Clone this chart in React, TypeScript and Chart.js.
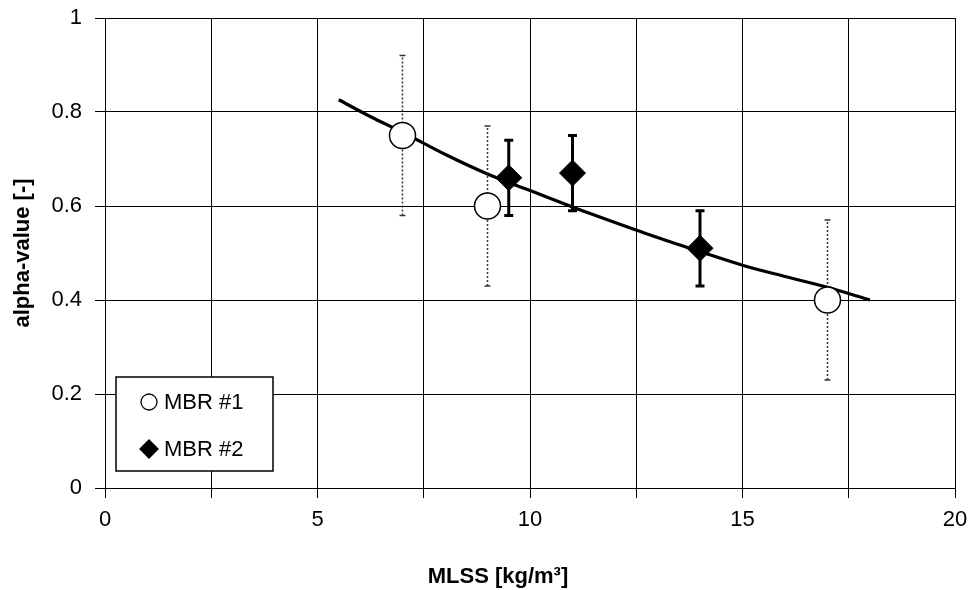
import React, { useEffect, useRef } from 'react';
import { Chart, registerables } from 'chart.js';

Chart.register(...registerables);

const FONT = "'Liberation Sans', Arial, sans-serif";

const X_TITLE = 'MLSS [kg/m³]';
const Y_TITLE = 'alpha-value [-]';
const SERIES1_LABEL = 'MBR #1';
const SERIES2_LABEL = 'MBR #2';

const X_MIN = 0;
const X_MAX = 20;
const X_GRID_STEP = 2.5;
const X_LABEL_STEP = 5;
const Y_MIN = 0;
const Y_MAX = 1;
const Y_STEP = 0.2;

const mbr1X = [7, 9, 17];
const mbr1Y = [0.75, 0.6, 0.4];
const mbr1Low = [0.58, 0.43, 0.23];
const mbr1High = [0.92, 0.77, 0.57];

const mbr2X = [9.5, 11, 14];
const mbr2Y = [0.66, 0.67, 0.51];
const mbr2Low = [0.58, 0.59, 0.43];
const mbr2High = [0.74, 0.75, 0.59];

const trendX = [5.5, 6.25, 7, 8, 9, 10, 11, 12, 13, 14, 15, 16, 17, 18];
const trendY = [0.826, 0.79, 0.757, 0.71, 0.668, 0.633, 0.598, 0.565, 0.533, 0.503, 0.474, 0.45, 0.427, 0.4];

const toPoints = (xs: number[], ys: number[]) => xs.map((x, i) => ({ x, y: ys[i] }));

const errorBarPlugin = {
  id: 'errorBars',
  beforeDatasetDraw(chart: any, args: any) {
    const ds = chart.data.datasets[args.index];
    if (!ds.errLow) return;
    const { ctx } = chart;
    const xs = chart.scales.x;
    const ys = chart.scales.y;
    const st = ds.errStyle;
    ctx.save();
    ctx.strokeStyle = st.color;
    ctx.lineWidth = st.width;
    ctx.lineCap = 'butt';
    ds.data.forEach((p: any, i: number) => {
      const px = xs.getPixelForValue(p.x);
      const lo = ys.getPixelForValue(ds.errLow[i]);
      const hi = ys.getPixelForValue(ds.errHigh[i]);
      ctx.setLineDash(st.dash);
      ctx.beginPath();
      ctx.moveTo(px, lo);
      ctx.lineTo(px, hi);
      ctx.stroke();
      ctx.setLineDash([]);
      ctx.beginPath();
      ctx.moveTo(px - st.cap, lo);
      ctx.lineTo(px + st.cap, lo);
      ctx.moveTo(px - st.cap, hi);
      ctx.lineTo(px + st.cap, hi);
      ctx.stroke();
    });
    ctx.restore();
  },
};

const legendBoxPlugin = {
  id: 'legendBox',
  afterDraw(chart: any) {
    const { ctx, chartArea } = chart;
    const left = chartArea.left + 11;
    const top = chartArea.bottom - 111;
    const w = 157;
    const h = 94;
    ctx.save();
    ctx.fillStyle = '#ffffff';
    ctx.fillRect(left, top, w, h);
    ctx.strokeStyle = '#000000';
    ctx.lineWidth = 1.5;
    ctx.strokeRect(left, top, w, h);
    const items = chart.data.datasets.filter((d: any) => d.inLegend);
    items.forEach((d: any, i: number) => {
      const cy = top + 25 + i * 47;
      const cx = left + 33;
      ctx.beginPath();
      if (d.pointStyle === 'rectRot') {
        const r = 9;
        ctx.moveTo(cx - r, cy);
        ctx.lineTo(cx, cy - r);
        ctx.lineTo(cx + r, cy);
        ctx.lineTo(cx, cy + r);
        ctx.closePath();
      } else {
        ctx.arc(cx, cy, 8, 0, Math.PI * 2);
      }
      ctx.fillStyle = d.backgroundColor;
      ctx.fill();
      ctx.lineWidth = 1.3;
      ctx.strokeStyle = '#000';
      ctx.stroke();
      ctx.fillStyle = '#000';
      ctx.font = `22px ${FONT}`;
      ctx.textAlign = 'left';
      ctx.textBaseline = 'middle';
      ctx.fillText(d.label, left + 48, cy + 1);
    });
    ctx.restore();
  },
};

const xTitlePlugin = {
  id: 'xTitle',
  afterDraw(chart: any) {
    const { ctx } = chart;
    ctx.save();
    ctx.fillStyle = '#000';
    ctx.font = `bold 22px ${FONT}`;
    ctx.textAlign = 'center';
    ctx.textBaseline = 'middle';
    ctx.fillText(X_TITLE, chart.width / 2 + 10.5, chart.height - 13);
    ctx.restore();
  },
};

export default function App() {
  const ref = useRef<HTMLCanvasElement>(null);

  useEffect(() => {
    const canvas = ref.current;
    if (!canvas) return;
    const chart = new Chart(canvas, {
      type: 'scatter',
      data: {
        datasets: [
          {
            label: SERIES1_LABEL,
            data: toPoints(mbr1X, mbr1Y),
            pointStyle: 'circle',
            pointRadius: 13,
            pointBorderWidth: 1.5,
            backgroundColor: '#ffffff',
            borderColor: '#000000',
            showLine: false,
            errLow: mbr1Low,
            errHigh: mbr1High,
            errStyle: { color: '#333333', width: 1.5, dash: [2, 2], cap: 3 },
            inLegend: true,
          } as any,
          {
            label: SERIES2_LABEL,
            data: toPoints(mbr2X, mbr2Y),
            pointStyle: 'rectRot',
            pointRadius: 13,
            pointBorderWidth: 1,
            backgroundColor: '#000000',
            borderColor: '#000000',
            showLine: false,
            errLow: mbr2Low,
            errHigh: mbr2High,
            errStyle: { color: '#000000', width: 3, dash: [], cap: 4.5 },
            inLegend: true,
          } as any,
          {
            label: 'trend',
            type: 'line',
            data: toPoints(trendX, trendY),
            borderColor: '#000000',
            borderWidth: 3.2,
            pointRadius: 0,
            fill: false,
            cubicInterpolationMode: 'monotone',
            showLine: true,
          } as any,
        ],
      },
      options: {
        responsive: false,
        animation: false,
        layout: { padding: { top: 18, right: 20, left: 0, bottom: 0 } },
        plugins: {
          legend: { display: false },
          tooltip: { enabled: false },
        },
        scales: {
          x: {
            type: 'linear',
            min: X_MIN,
            max: X_MAX,
            ticks: {
              stepSize: X_GRID_STEP,
              autoSkip: false,
              maxRotation: 0,
              padding: 9,
              color: '#000',
              font: { family: FONT, size: 22 },
              callback: (v: any) => (Number(v) % X_LABEL_STEP === 0 ? String(v) : ''),
            },
            grid: { color: '#000', lineWidth: 1, tickLength: 10, tickColor: '#000' },
            border: { color: '#000', width: 1 },
            afterFit: (s: any) => {
              s.height = 102;
              s.paddingLeft = 0;
              s.paddingRight = 0;
            },
          },
          y: {
            type: 'linear',
            min: Y_MIN,
            max: Y_MAX,
            ticks: {
              stepSize: Y_STEP,
              padding: 13,
              color: '#000',
              font: { family: FONT, size: 22 },
              callback: (v: any) => String(Number(Number(v).toFixed(1))),
            },
            grid: { color: '#000', lineWidth: 1, tickLength: 10, tickColor: '#000' },
            border: { color: '#000', width: 1 },
            title: {
              display: true,
              text: Y_TITLE,
              color: '#000',
              font: { family: FONT, size: 22, weight: 'bold' },
              padding: { top: 10, bottom: 0 },
            },
            afterFit: (s: any) => {
              s.width = 105;
              s.paddingTop = 0;
              s.paddingBottom = 0;
            },
          },
        },
      } as any,
      plugins: [errorBarPlugin, legendBoxPlugin, xTitlePlugin],
    });
    return () => chart.destroy();
  }, []);

  return (
    <div style={{ position: 'fixed', left: 0, top: 0, width: 975, height: 590, background: '#ffffff' }}>
      <canvas ref={ref} width={975} height={590} style={{ display: 'block' }} />
    </div>
  );
}
